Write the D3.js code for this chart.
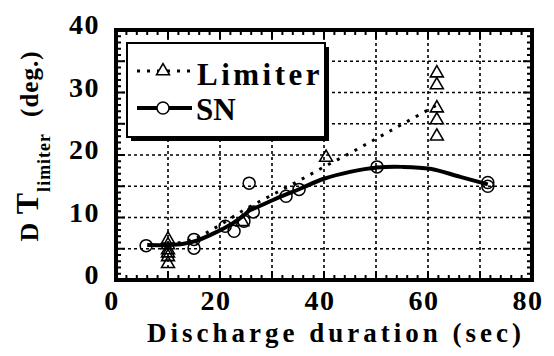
<script src='https://d3js.org/d3.v7.min.js'></script>
<body style="margin:0;background:#fff">
<script>
  // limiter measurements (triangles)
  const limX = [10, 10, 10, 10, 10, 10, 24.3, 40.4, 61.7, 61.7, 61.7, 61.7, 61.7];
  const limY = [6.5, 5.6, 4.8, 4.3, 3.7, 2.6, 9.3, 19.6, 33.1, 31.2, 27.5, 25.6, 23.0];
  // SN measurements (circles)
  const snX = [5.8, 15, 15, 21, 22.7, 24.6, 26.4, 25.6, 32.7, 35.2, 50.2, 71.5, 71.5];
  const snY = [5.5, 6.5, 5.1, 8.6, 7.8, 9.4, 10.9, 15.5, 13.4, 14.5, 18.1, 15.6, 15.0];
  // fitted lines
  const limFitX = [10, 15, 20, 25, 30, 35, 40, 45, 50, 55, 61.5];
  const limFitY = [5.6, 6.6, 8.8, 11.4, 13.6, 15.8, 18.1, 20.3, 22.6, 24.9, 27.9];
  const snFitX = [6, 10, 13, 15.5, 19.4, 22.5, 24.5, 25.8, 27, 30.2, 35.4, 40, 45, 50.2, 55, 60.4, 66.2, 71.5];
  const snFitY = [5.6, 5.6, 5.8, 6.3, 7.7, 9.1, 10.3, 11.2, 11.6, 12.8, 14.6, 16.2, 17.3, 18.0, 18.1, 17.8, 16.5, 15.3];
  const xTicks = [0, 20, 40, 60, 80];
  const yTicks = [0, 10, 20, 30, 40];

  const W = 554, H = 356;
  const font = "Liberation Serif";

  var x = d3.scaleLinear().domain([0, 80]).range([116, 532]);
  var y = d3.scaleLinear().domain([0, 40]).range([280, 30]);

  var svg = d3.select("body").append("svg")
    .attr("width", W).attr("height", H);

  // grid
  svg.append("g").selectAll("line")
    .data(d3.range(10, 80, 10)).enter().append("line")
    .attr("x1", d => x(d)).attr("x2", d => x(d))
    .attr("y1", y(0)).attr("y2", y(40))
    .attr("stroke", "#000").attr("stroke-width", 1.6).attr("stroke-dasharray", "3,3");
  svg.append("g").selectAll("line")
    .data(d3.range(5, 40, 5)).enter().append("line")
    .attr("y1", d => y(d)).attr("y2", d => y(d))
    .attr("x1", x(0)).attr("x2", x(80))
    .attr("stroke", "#000").attr("stroke-width", 1.6).attr("stroke-dasharray", "3,3");

  // inward ticks on all four sides
  var tk = svg.append("g").attr("stroke", "#000").attr("stroke-width", 2);
  d3.range(0, 81, 2).forEach(function(v) {
    var len = v % 10 == 0 ? 9 : 5;
    tk.append("line").attr("x1", x(v)).attr("x2", x(v)).attr("y1", y(0)).attr("y2", y(0) - len);
    tk.append("line").attr("x1", x(v)).attr("x2", x(v)).attr("y1", y(40)).attr("y2", y(40) + len);
  });
  d3.range(0, 41, 1).forEach(function(v) {
    var len = v % 5 == 0 ? 9 : 5;
    tk.append("line").attr("y1", y(v)).attr("y2", y(v)).attr("x1", x(0)).attr("x2", x(0) + len);
    tk.append("line").attr("y1", y(v)).attr("y2", y(v)).attr("x1", x(80)).attr("x2", x(80) - len);
  });

  // frame
  svg.append("rect")
    .attr("x", x(0)).attr("y", y(40))
    .attr("width", x(80) - x(0)).attr("height", y(0) - y(40))
    .attr("fill", "none").attr("stroke", "#000").attr("stroke-width", 4);

  // fitted lines
  var line = d3.line().curve(d3.curveCatmullRom.alpha(0.5));
  svg.append("path")
    .attr("d", line(limFitX.map((d, i) => [x(d), y(limFitY[i])])))
    .attr("fill", "none").attr("stroke", "#000").attr("stroke-width", 3)
    .attr("stroke-dasharray", "3,7");
  svg.append("path")
    .attr("d", line(snFitX.map((d, i) => [x(d), y(snFitY[i])])))
    .attr("fill", "none").attr("stroke", "#000").attr("stroke-width", 4);

  var tri = d3.symbol().type(d3.symbolTriangle).size(72);

  // triangles
  svg.append("g").selectAll("path")
    .data(limX).enter().append("path")
    .attr("d", tri)
    .attr("transform", (d, i) => "translate(" + x(d) + "," + y(limY[i]) + ")")
    .attr("fill", "none").attr("stroke", "#000").attr("stroke-width", 1.6);

  // circles
  svg.append("g").selectAll("circle")
    .data(snX).enter().append("circle")
    .attr("cx", d => x(d)).attr("cy", (d, i) => y(snY[i]))
    .attr("r", 6)
    .attr("fill", "none").attr("stroke", "#000").attr("stroke-width", 1.5);

  // legend
  svg.append("rect").attr("x", 131).attr("y", 47).attr("width", 198).attr("height", 94).attr("fill", "#000");
  svg.append("rect").attr("x", 127).attr("y", 43).attr("width", 198).attr("height", 94)
    .attr("fill", "#fff").attr("stroke", "#000").attr("stroke-width", 2);
  svg.append("line").attr("x1", 137).attr("x2", 192).attr("y1", 71).attr("y2", 71)
    .attr("stroke", "#000").attr("stroke-width", 3).attr("stroke-dasharray", "3,7");
  svg.append("path").attr("d", tri).attr("transform", "translate(163,71)")
    .attr("fill", "#fff").attr("stroke", "#000").attr("stroke-width", 1.6);
  svg.append("line").attr("x1", 137).attr("x2", 192).attr("y1", 108).attr("y2", 108)
    .attr("stroke", "#000").attr("stroke-width", 4);
  svg.append("circle").attr("cx", 163).attr("cy", 108).attr("r", 6)
    .attr("fill", "#fff").attr("stroke", "#000").attr("stroke-width", 1.5);

  function txt(sel) {
    return sel.append("text").attr("font-family", font).attr("font-weight", "bold");
  }
  txt(svg).attr("x", 197).attr("y", 85).attr("font-size", 31)
    .attr("letter-spacing", 3.5).text("Limiter");
  txt(svg).attr("x", 196).attr("y", 120).attr("font-size", 31)
    .text("SN");

  // tick labels
  xTicks.forEach(function(d) {
    txt(svg).attr("x", x(d) - 4).attr("y", 310)
      .attr("text-anchor", "middle").attr("font-size", 28).attr("letter-spacing", 1.5)
      .text(d);
  });
  yTicks.forEach(function(d) {
    txt(svg).attr("x", 100).attr("y", y(d) + 4)
      .attr("text-anchor", "end").attr("font-size", 28).attr("letter-spacing", 1.5)
      .text(d);
  });

  // axis titles
  txt(svg).attr("x", 336).attr("y", 342)
    .attr("text-anchor", "middle").attr("font-size", 27).attr("letter-spacing", 4)
    .text("Discharge duration (sec)");

  var yl = txt(svg)
    .attr("transform", "translate(38,146) rotate(-90)")
    .attr("text-anchor", "middle").attr("font-size", 25).attr("letter-spacing", 1);
  yl.append("tspan").attr("font-size", 26).text("D ");
  yl.append("tspan").attr("font-size", 32).text("T");
  yl.append("tspan").attr("font-size", 18).attr("dy", 12).text("limiter");
  yl.append("tspan").attr("dy", -12).attr("dx", 16).text("(deg.)");
</script>
</body>
